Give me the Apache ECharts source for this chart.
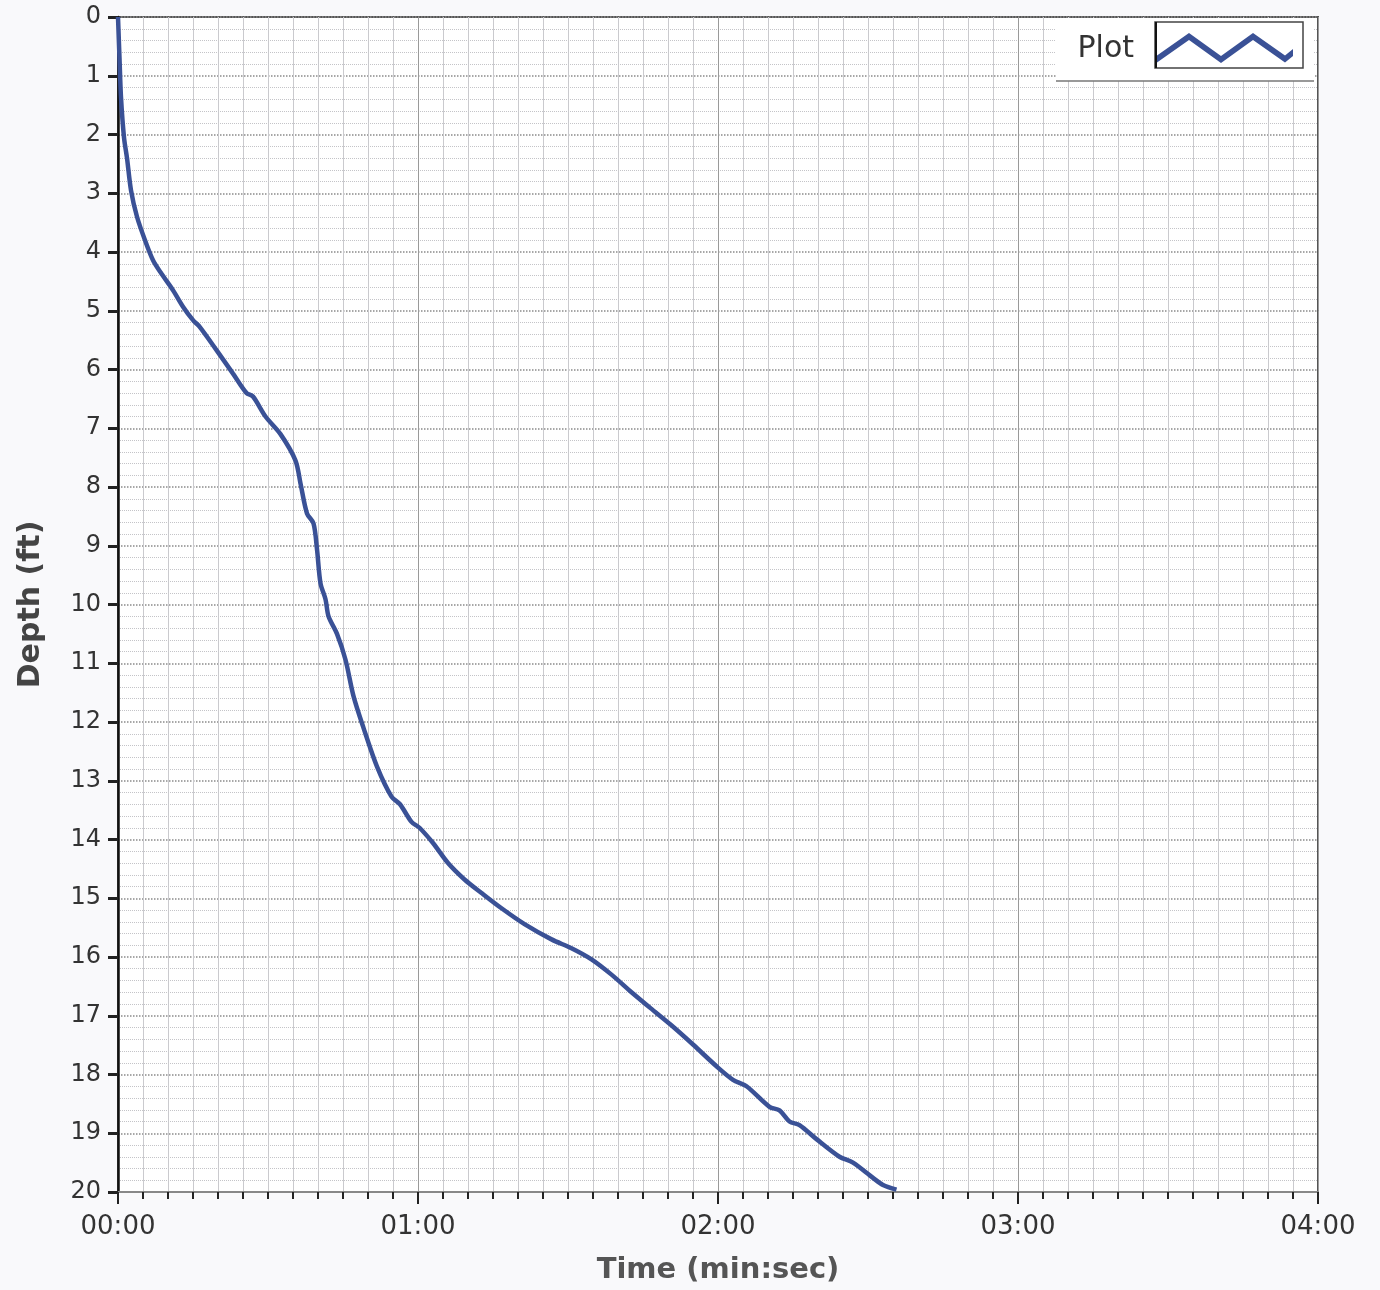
<!DOCTYPE html>
<html>
<head>
<meta charset="utf-8">
<title>Depth vs Time</title>
<script src="https://cdn.jsdelivr.net/npm/echarts@6/dist/echarts.min.js"></script>
<style>
  html, body { margin: 0; padding: 0; background: #f9f9fb; }
  #chart { width: 1380px; height: 1290px; }
</style>
</head>
<body>
<div id="chart"></div>
<script>
// time in seconds, depth in feet
var timeSec = [0, 0.3, 0.6, 1.2, 1.8, 2.6, 3.8, 5.4, 7.0, 8.7, 11, 13, 15, 16.3, 19.7, 23, 25.7, 27, 29.5,
    32.5, 35.5, 36.5, 37.8, 39.1, 39.8, 40.5, 41.5, 42.1, 43.8, 45.5, 47.1, 49.1, 51.8, 54.7, 56.4, 58.7,
    60.3, 63, 66, 69.3, 72.7, 76.7, 81.3, 86.7, 90.7, 94.7, 98.7, 102.7, 106.5, 110.5, 115, 119.7, 123,
    125.7, 130.3, 132.3, 134.3, 136.3, 139.7, 144.3, 147, 151, 153, 155.7];
var depthFt = [0, 0.7, 1.37, 2.05, 2.4, 2.95, 3.4, 3.8, 4.14, 4.37, 4.65, 4.93, 5.16, 5.27, 5.67, 6.07, 6.4, 6.46, 6.8,
    7.1, 7.55, 7.94, 8.45, 8.62, 9.06, 9.64, 9.91, 10.2, 10.5, 10.94, 11.56, 12.1, 12.76, 13.27, 13.4, 13.7,
    13.8, 14.06, 14.4, 14.68, 14.91, 15.17, 15.44, 15.7, 15.85, 16.04, 16.3, 16.6, 16.87, 17.15, 17.49, 17.86, 18.09,
    18.2, 18.55, 18.61, 18.8, 18.86, 19.1, 19.4, 19.5, 19.76, 19.88, 19.96];
var seriesName = 'Plot';

var chart = echarts.init(document.getElementById('chart'));

var points = timeSec.map(function (t, i) { return [t, depthFt[i]]; });

function mmss(v) {
    var m = Math.floor(v / 60), s = Math.round(v % 60);
    return (m < 10 ? '0' : '') + m + ':' + (s < 10 ? '0' : '') + s;
}

// zigzag legend icon (thick polyline drawn as a polygon)
var zigzag = 'path://M0,0 L0.01,0 Z M140,40 L139.99,40 Z ' +
    'M2,26.5 L34,4 L66,27 L98,4 L130,26.5 L138,20 L138,27 L130,33.5 L98,11 L66,34 L34,11 L2,33.5 Z';

var option = {
    backgroundColor: '#f9f9fb',
    textStyle: { fontFamily: 'DejaVu Sans' },
    grid: {
        left: 118,
        right: 62,
        top: 17,
        bottom: 95,
        show: true,
        backgroundColor: '#ffffff',
        borderColor: '#555',
        borderWidth: 2
    },
    legend: {
        data: [seriesName],
        right: 80,
        top: 24,
        align: 'right',
        itemWidth: 140,
        itemHeight: 40,
        icon: zigzag,
        z: 6,
        textStyle: { fontSize: 30, color: '#333', padding: [0, 16, 0, 0] }
    },
    graphic: [
        { type: 'rect', z: 5, shape: { x: 1056, y: 18, width: 258, height: 63 }, style: { fill: '#ffffff' } },
        { type: 'line', z: 5, shape: { x1: 1056, y1: 81, x2: 1314, y2: 81 }, style: { stroke: '#777', lineWidth: 1.5 } },
        { type: 'rect', z: 7, shape: { x: 1155, y: 22, width: 148, height: 46 }, style: { fill: 'none', stroke: '#444', lineWidth: 1.5 } },
        { type: 'line', z: 7, shape: { x1: 1156, y1: 22, x2: 1156, y2: 68 }, style: { stroke: '#111', lineWidth: 2 } }
    ],
    xAxis: {
        type: 'value',
        min: 0,
        max: 240,
        interval: 60,
        name: 'Time (min:sec)',
        nameLocation: 'middle',
        nameGap: 64,
        nameTextStyle: { fontSize: 29, fontWeight: 'bold', color: '#555' },
        axisLine: { show: true, onZero: false, lineStyle: { color: '#888', width: 2 } },
        axisTick: { show: true, length: 12, lineStyle: { color: '#222', width: 2 } },
        minorTick: { show: true, splitNumber: 12, length: 7, lineStyle: { color: '#222', width: 2 } },
        axisLabel: { fontSize: 26, color: '#333', margin: 22, formatter: mmss },
        splitLine: { show: true, lineStyle: { color: '#9a9a9a', width: 1 } },
        minorSplitLine: { show: true, lineStyle: { color: '#cacace', width: 1 } }
    },
    yAxis: {
        type: 'value',
        inverse: true,
        min: 0,
        max: 20,
        interval: 1,
        position: 'left',
        name: 'Depth (ft)',
        nameLocation: 'middle',
        nameGap: 72,
        nameTextStyle: { fontSize: 30, fontWeight: 'bold', color: '#444' },
        axisLine: { show: true, onZero: false, lineStyle: { color: '#111', width: 2.5 } },
        axisTick: { show: true, inside: false, length: 10, lineStyle: { color: '#222', width: 3 } },
        minorTick: { show: false, splitNumber: 5 },
        axisLabel: { fontSize: 24, color: '#333', margin: 17 },
        splitLine: { show: true, lineStyle: { color: '#8a8a8a', width: 1.5, type: 'dotted' } },
        minorSplitLine: { show: true, lineStyle: { color: '#c4c4c8', width: 1, type: 'dotted' } }
    },
    series: [{
        name: seriesName,
        type: 'line',
        data: points,
        smooth: 0.3,
        showSymbol: false,
        color: '#3a5196',
        lineStyle: { color: '#3a5196', width: 4.5 }
    }]
};

chart.setOption(option);
</script>
</body>
</html>
